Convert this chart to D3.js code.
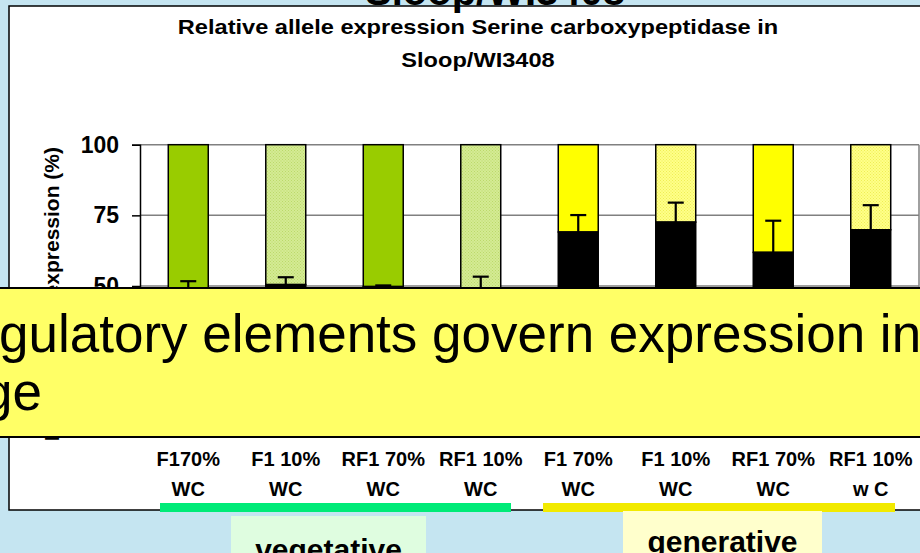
<!DOCTYPE html>
<html>
<head>
<meta charset="utf-8">
<script src="https://cdn.jsdelivr.net/npm/d3@7"></script>
<style>
    body { margin: 0; background: #c5e5f1; }
    svg { display: block; font-family: Arial, "Liberation Sans", sans-serif; }
</style>
</head>
<body>
<div id="chart"></div>
<script>
// chart data
let labelTop = ['F170%', 'F1 10%', 'RF1 70%', 'RF1 10%', 'F1 70%', 'F1 10%', 'RF1 70%', 'RF1 10%'];
let labelBottom = ['WC', 'WC', 'WC', 'WC', 'WC', 'WC', 'WC', 'w C'];
let stage = ['vegetative', 'vegetative', 'vegetative', 'vegetative', 'generative', 'generative', 'generative', 'generative'];
let water = ['70', '10', '70', '10', '70', '10', '70', '10'];
let alleleA = [48.5, 50.5, 49.8, 49.2, 69.1, 72.6, 61.9, 69.9];   // lower (black) part
let alleleErr = [3.2, 2.6, 0.4, 4.1, 6.0, 6.9, 11.2, 8.7];
let yTicks = [0, 25, 50, 75, 100];

let W = 920, H = 553;

let svg = d3.select('#chart')
    .append('svg')
    .attr('width', W)
    .attr('height', H);

// patterns for the light (10% WC) bars
let defs = svg.append('defs');
function dots(id, base, dot) {
    let p = defs.append('pattern')
        .attr('id', id)
        .attr('width', 3)
        .attr('height', 3)
        .attr('patternUnits', 'userSpaceOnUse');
    p.append('rect').attr('width', 3).attr('height', 3).attr('fill', base);
    p.append('rect').attr('width', 1).attr('height', 1).attr('fill', dot);
    p.append('rect').attr('x', 1.5).attr('y', 1.5).attr('width', 1).attr('height', 1).attr('fill', dot);
}
dots('lightgreen', '#d4eb94', '#bcd96a');
dots('lightyellow', '#ffff88', '#eeee55');

function topFill(i) {
    if (stage[i] === 'vegetative') return water[i] === '70' ? '#99cc00' : 'url(#lightgreen)';
    return water[i] === '70' ? '#ffff00' : 'url(#lightyellow)';
}

// white chart panel
svg.append('rect')
    .attr('x', 9).attr('y', 6)
    .attr('width', 940).attr('height', 504)
    .attr('fill', '#fff')
    .attr('stroke', '#000')
    .attr('stroke-width', 1.5);

// slide title, cut off at the top
svg.append('text')
    .attr('x', 495).attr('y', 5)
    .attr('text-anchor', 'middle')
    .attr('font-size', 40)
    .attr('font-weight', 'bold')
    .text('Sloop/WI3408');

// chart title
let title = svg.append('text')
    .attr('text-anchor', 'middle')
    .attr('font-weight', 'bold')
    .attr('font-size', 20)
    .attr('transform', 'translate(478,0) scale(1.18,1)');
title.append('tspan').attr('x', 0).attr('y', 34).text('Relative allele expression Serine carboxypeptidase in');
title.append('tspan').attr('x', 0).attr('y', 67).text('Sloop/WI3408');

// scales
let x = d3.scaleBand()
    .domain(d3.range(labelTop.length))
    .range([140, 919])
    .paddingInner(0.59)
    .paddingOuter(0.29);
let y = d3.scaleLinear().domain([0, 100]).range([427.3, 144.7]);

let plot = svg.append('g');

// gridlines
plot.selectAll('.grid')
    .data(yTicks)
    .enter()
    .append('line')
    .attr('x1', 140).attr('x2', 919)
    .attr('y1', function (d) { return y(d); })
    .attr('y2', function (d) { return y(d); })
    .attr('stroke', '#808080')
    .attr('stroke-width', 1.5);
plot.append('line')
    .attr('x1', 919).attr('x2', 919)
    .attr('y1', y(100)).attr('y2', y(0))
    .attr('stroke', '#808080')
    .attr('stroke-width', 1.5);

// upper part of the bar (other allele, up to 100)
plot.selectAll('.upper')
    .data(alleleA)
    .enter()
    .append('rect')
    .attr('x', function (d, i) { return x(i); })
    .attr('width', x.bandwidth())
    .attr('y', y(100))
    .attr('height', function (d) { return y(d) - y(100); })
    .attr('fill', function (d, i) { return topFill(i); })
    .attr('stroke', '#000')
    .attr('stroke-width', 1.5);

// lower part (black)
plot.selectAll('.lower')
    .data(alleleA)
    .enter()
    .append('rect')
    .attr('x', function (d, i) { return x(i); })
    .attr('width', x.bandwidth())
    .attr('y', function (d) { return y(d); })
    .attr('height', function (d) { return y(0) - y(d); })
    .attr('fill', '#000')
    .attr('stroke', '#000')
    .attr('stroke-width', 1.5);

// error bars, upward only
let err = plot.selectAll('.err')
    .data(alleleA)
    .enter()
    .append('g')
    .attr('stroke', '#000')
    .attr('stroke-width', 2.2);
err.append('line')
    .attr('x1', function (d, i) { return x(i) + x.bandwidth() / 2; })
    .attr('x2', function (d, i) { return x(i) + x.bandwidth() / 2; })
    .attr('y1', function (d) { return y(d); })
    .attr('y2', function (d, i) { return y(d + alleleErr[i]); });
err.append('line')
    .attr('x1', function (d, i) { return x(i) + x.bandwidth() / 2 - 8; })
    .attr('x2', function (d, i) { return x(i) + x.bandwidth() / 2 + 8; })
    .attr('y1', function (d, i) { return y(d + alleleErr[i]); })
    .attr('y2', function (d, i) { return y(d + alleleErr[i]); });

// y axis
let yAxis = svg.append('g')
    .attr('transform', 'translate(140,0)')
    .call(d3.axisLeft(y).tickValues(yTicks).tickSize(8).tickPadding(13));
yAxis.select('.domain').attr('stroke', '#000').attr('stroke-width', 1.5);
yAxis.selectAll('.tick line').attr('stroke', '#000').attr('stroke-width', 1.5);
yAxis.selectAll('.tick text')
    .attr('font-size', 23)
    .attr('font-weight', 'bold')
    .attr('font-family', 'Arial, "Liberation Sans", sans-serif')
    .attr('fill', '#000');

svg.append('text')
    .attr('transform', 'translate(59,147) rotate(-90)')
    .attr('text-anchor', 'end')
    .attr('font-size', 21)
    .attr('font-weight', 'bold')
    .text('Relative allele expression (%)');

// category labels
let cat = svg.selectAll('.cat')
    .data(labelTop)
    .enter()
    .append('text')
    .attr('text-anchor', 'middle')
    .attr('font-size', 20)
    .attr('font-weight', 'bold');
cat.append('tspan')
    .attr('x', function (d, i) { return x(i) + x.bandwidth() / 2; })
    .attr('y', 466)
    .text(function (d) { return d; });
cat.append('tspan')
    .attr('x', function (d, i) { return x(i) + x.bandwidth() / 2; })
    .attr('y', 496)
    .text(function (d, i) { return labelBottom[i]; });

// stage brackets under the chart
let groups = [
    { name: 'vegetative', line: '#00eb78', box: '#dffde0', x0: 160, x1: 511, bx: 231, bw: 195, by: 516, ty: 560 },
    { name: 'generative', line: '#f2ea00', box: '#ffffcc', x0: 543, x1: 895, bx: 623, bw: 199, by: 511, ty: 552 }
];
groups.forEach(function (g) {
    svg.append('rect')
        .attr('x', g.x0).attr('y', 503)
        .attr('width', g.x1 - g.x0).attr('height', 9)
        .attr('fill', g.line);
    svg.append('rect')
        .attr('x', g.bx).attr('y', g.by)
        .attr('width', g.bw).attr('height', H - g.by)
        .attr('fill', g.box);
    svg.append('text')
        .attr('x', g.bx + g.bw / 2).attr('y', g.ty)
        .attr('text-anchor', 'middle')
        .attr('font-size', 30)
        .attr('font-weight', 'bold')
        .text(g.name);
});

// yellow call-out box laid over the chart
svg.append('rect')
    .attr('x', -10).attr('y', 288)
    .attr('width', 950).attr('height', 149)
    .attr('fill', '#ffff66')
    .attr('stroke', '#000')
    .attr('stroke-width', 2);

let note = svg.append('g').attr('font-size', 53);
let pre = note.append('text').text('Cis-re');
let preW = pre.node().getComputedTextLength();
pre.remove();
note.append('text')
    .attr('x', -preW - 1).attr('y', 352)
    .text('Cis-regulatory elements govern expression in each');
note.append('text')
    .attr('x', 42).attr('y', 410)
    .attr('text-anchor', 'end')
    .text('stage');
</script>
</body>
</html>
